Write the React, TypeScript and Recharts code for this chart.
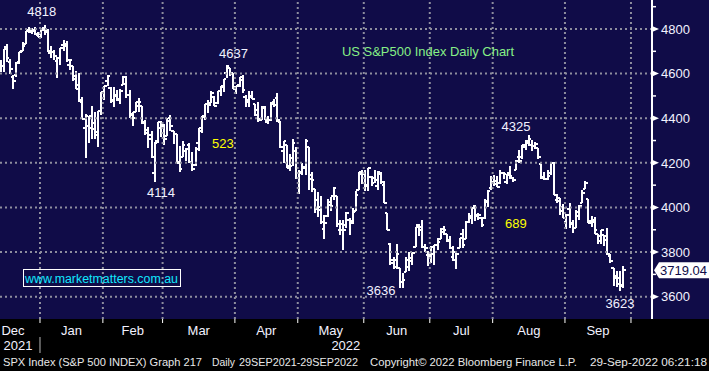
import React from 'react';
import { ComposedChart, Bar, XAxis, YAxis, ReferenceLine, ReferenceDot } from 'recharts';

const FONT = '"Liberation Sans", Arial, sans-serif';
const NAVY = '#100c48';
const GRID = '#8e8e9e';
const TEXT = '#f2f2ff';

// Trading days (categories)
const dates = [
  '2021-12-13','2021-12-14','2021-12-15','2021-12-16','2021-12-17','2021-12-20','2021-12-21','2021-12-22','2021-12-23','2021-12-27','2021-12-28','2021-12-29','2021-12-30','2021-12-31',
  '2022-01-03','2022-01-04','2022-01-05','2022-01-06','2022-01-07','2022-01-10','2022-01-11','2022-01-12','2022-01-13','2022-01-14','2022-01-18','2022-01-19','2022-01-20','2022-01-21','2022-01-24','2022-01-25','2022-01-26','2022-01-27','2022-01-28','2022-01-31',
  '2022-02-01','2022-02-02','2022-02-03','2022-02-04','2022-02-07','2022-02-08','2022-02-09','2022-02-10','2022-02-11','2022-02-14','2022-02-15','2022-02-16','2022-02-17','2022-02-18','2022-02-22','2022-02-23','2022-02-24','2022-02-25','2022-02-28',
  '2022-03-01','2022-03-02','2022-03-03','2022-03-04','2022-03-07','2022-03-08','2022-03-09','2022-03-10','2022-03-11','2022-03-14','2022-03-15','2022-03-16','2022-03-17','2022-03-18','2022-03-21','2022-03-22','2022-03-23','2022-03-24','2022-03-25','2022-03-28','2022-03-29','2022-03-30','2022-03-31',
  '2022-04-01','2022-04-04','2022-04-05','2022-04-06','2022-04-07','2022-04-08','2022-04-11','2022-04-12','2022-04-13','2022-04-14','2022-04-18','2022-04-19','2022-04-20','2022-04-21','2022-04-22','2022-04-25','2022-04-26','2022-04-27','2022-04-28','2022-04-29',
  '2022-05-02','2022-05-03','2022-05-04','2022-05-05','2022-05-06','2022-05-09','2022-05-10','2022-05-11','2022-05-12','2022-05-13','2022-05-16','2022-05-17','2022-05-18','2022-05-19','2022-05-20','2022-05-23','2022-05-24','2022-05-25','2022-05-26','2022-05-27','2022-05-31',
  '2022-06-01','2022-06-02','2022-06-03','2022-06-06','2022-06-07','2022-06-08','2022-06-09','2022-06-10','2022-06-13','2022-06-14','2022-06-15','2022-06-16','2022-06-17','2022-06-21','2022-06-22','2022-06-23','2022-06-24','2022-06-27','2022-06-28','2022-06-29','2022-06-30',
  '2022-07-01','2022-07-05','2022-07-06','2022-07-07','2022-07-08','2022-07-11','2022-07-12','2022-07-13','2022-07-14','2022-07-15','2022-07-18','2022-07-19','2022-07-20','2022-07-21','2022-07-22','2022-07-25','2022-07-26','2022-07-27','2022-07-28','2022-07-29',
  '2022-08-01','2022-08-02','2022-08-03','2022-08-04','2022-08-05','2022-08-08','2022-08-09','2022-08-10','2022-08-11','2022-08-12','2022-08-15','2022-08-16','2022-08-17','2022-08-18','2022-08-19','2022-08-22','2022-08-23','2022-08-24','2022-08-25','2022-08-26','2022-08-29','2022-08-30','2022-08-31',
  '2022-09-01','2022-09-02','2022-09-06','2022-09-07','2022-09-08','2022-09-09','2022-09-12','2022-09-13','2022-09-14','2022-09-15','2022-09-16','2022-09-19','2022-09-20','2022-09-21','2022-09-22','2022-09-23','2022-09-26','2022-09-27','2022-09-28',
];

const opens = [
  4710,4643,4636,4719,4652,4587,4594,4650,4703,4733,4795,4789,4794,4775,
  4778,4804,4787,4693,4697,4656,4669,4728,4733,4638,4632,4588,4548,4471,4356,4366,4408,4380,4337,4432,
  4519,4566,4535,4482,4505,4480,4548,4554,4506,4413,4430,4456,4456,4385,4332,4325,4155,4298,4354,
  4363,4322,4401,4342,4328,4202,4224,4253,4280,4202,4189,4288,4345,4407,4462,4469,4493,4470,4523,4541,4603,4624,4599,
  4540,4547,4573,4495,4474,4495,4462,4437,4394,4449,4385,4390,4473,4489,4385,4255,4279,4187,4222,4253,
  4130,4159,4181,4271,4129,4081,4035,3990,3903,3963,4013,4052,4051,3900,3928,3920,3943,3930,3984,4077,4151,
  4150,4096,4137,4134,4097,4148,4102,3974,3838,3764,3764,3729,3665,3709,3733,3774,3821,3920,3913,3825,3785,
  3781,3792,3831,3859,3888,3880,3851,3779,3764,3819,3883,3860,3935,3955,4007,3965,3954,3952,4027,4088,
  4113,4105,4108,4155,4115,4155,4133,4170,4227,4225,4269,4291,4281,4274,4267,4195,4133,4127,4154,4198,4035,4041,4000,
  3937,3995,3930,3910,3960,4022,4084,4039,3940,3933,3880,3849,3875,3871,3782,3727,3682,3686,3651,
];

const highs = [
  4710,4660,4712,4731,4666,4592,4651,4698,4740,4791,4807,4805,4808,4787,
  4797,4819,4798,4725,4708,4673,4715,4749,4744,4666,4632,4612,4602,4495,4418,4411,4453,4429,4432,4517,
  4546,4595,4542,4540,4528,4531,4590,4588,4527,4426,4472,4490,4456,4394,4362,4341,4294,4385,4388,
  4375,4401,4416,4343,4328,4276,4299,4268,4291,4248,4271,4358,4412,4465,4481,4522,4501,4520,4546,4575,4637,4627,4603,
  4546,4583,4593,4503,4521,4521,4464,4471,4453,4453,4411,4471,4488,4513,4386,4299,4279,4240,4308,4270,
  4169,4200,4308,4271,4157,4081,4068,4050,3964,4039,4047,4090,4051,3946,3943,3981,3955,3999,4076,4158,4168,
  4166,4178,4143,4169,4164,4160,4119,3974,3839,3778,3838,3729,3708,3779,3801,3802,3913,3928,3945,3837,3807,
  3829,3832,3865,3906,3918,3880,3874,3829,3796,3863,3903,3939,3975,3999,4013,3975,3954,4039,4079,4141,
  4144,4141,4167,4161,4151,4187,4138,4211,4257,4280,4301,4325,4302,4292,4267,4195,4159,4168,4200,4204,4062,4044,4016,
  3970,4019,3942,3987,4011,4077,4120,4039,3961,3956,3880,3900,3876,3908,3790,3727,3716,3717,3736,
];

const lows = [
  4667,4608,4607,4651,4600,4531,4583,4645,4703,4733,4780,4778,4775,4765,
  4758,4775,4699,4671,4663,4582,4639,4703,4651,4614,4568,4530,4471,4396,4222,4287,4305,4309,4273,4414,
  4483,4544,4470,4451,4477,4465,4548,4489,4401,4364,4430,4430,4373,4327,4268,4222,4115,4287,4318,
  4279,4322,4345,4284,4199,4157,4224,4209,4200,4162,4187,4251,4335,4390,4425,4469,4455,4465,4501,4517,4582,4589,4530,
  4507,4539,4514,4451,4450,4484,4408,4381,4392,4392,4373,4389,4449,4384,4268,4200,4175,4162,4188,4126,
  4062,4147,4147,4077,4068,3975,3958,3928,3859,3959,3984,4033,3911,3876,3810,3909,3875,3925,3984,4077,4104,
  4074,4075,4097,4110,4080,4107,4018,3900,3743,3724,3723,3639,3637,3709,3717,3743,3821,3870,3820,3800,3738,
  3752,3743,3811,3859,3876,3847,3814,3759,3722,3817,3819,3860,3929,3927,3938,3944,3911,3950,4002,4080,
  4097,4090,4107,4129,4107,4128,4112,4167,4201,4219,4257,4277,4253,4262,4218,4129,4124,4123,4147,4057,4018,3965,3954,
  3903,3907,3886,3907,3945,4022,4084,3932,3912,3880,3838,3838,3828,3789,3749,3647,3644,3624,3640,
];

const closes = [
  4668,4634,4709,4668,4620,4568,4649,4697,4725,4791,4786,4793,4778,4766,
  4796,4793,4700,4696,4677,4670,4713,4726,4659,4662,4577,4533,4483,4398,4410,4356,4350,4326,4432,4516,
  4546,4590,4477,4501,4484,4522,4587,4504,4419,4401,4472,4475,4380,4349,4305,4226,4288,4385,4374,
  4306,4387,4364,4329,4201,4171,4278,4260,4204,4173,4262,4358,4412,4463,4461,4512,4456,4520,4543,4575,4632,4602,4530,
  4546,4583,4525,4481,4500,4488,4413,4397,4447,4392,4391,4463,4459,4393,4272,4296,4175,4184,4288,4132,
  4155,4175,4300,4147,4123,3991,4001,3936,3930,4024,4008,4088,3924,3901,3901,3974,3941,3979,4058,4158,4132,
  4101,4176,4109,4121,4161,4116,4018,3901,3750,3735,3790,3667,3675,3765,3760,3796,3912,3900,3821,3819,3785,
  3825,3831,3845,3903,3899,3855,3819,3801,3790,3863,3831,3937,3960,3999,3962,3967,3921,4024,4072,4130,
  4119,4091,4155,4152,4145,4140,4122,4210,4207,4280,4297,4305,4275,4284,4228,4138,4128,4141,4199,4058,4031,3986,3955,
  3967,3924,3909,3980,4006,4067,4110,3932,3946,3901,3873,3900,3856,3790,3758,3693,3655,3647,3719,
];

const lastClose = 3719.04;

// x-axis tick positions (in trading-day index units)
const monthBoundaries = [13.5, 33.5, 52.5, 75.5, 95.5, 116.5, 137.5, 157.5, 180.5, 201.5];
const yearSeparator = 13.5;
const monthLabels = ['Dec', 'Jan', 'Feb', 'Mar', 'Apr', 'May', 'Jun', 'Jul', 'Aug', 'Sep'];
const monthLabelPos = [4.9, 23.5, 43, 64, 85.5, 106, 127, 147.5, 169, 191];
const yearLabels = ['2021', '2022'];
const yearLabelPos = [6.5, 110.8];

const yGridValues = [3600, 3800, 4000, 4200, 4400, 4600, 4800];
const yTickValues = [3600, 3700, 3800, 3900, 4000, 4100, 4200, 4300, 4400, 4500, 4600, 4700, 4800, 4900, lastClose];

const annotations = [
  { x: 15, y: 4819, text: '4818', dx: -3, dy: -9, color: TEXT },
  { x: 73, y: 4637, text: '4637', dx: 6.5, dy: -7, color: TEXT },
  { x: 50, y: 4115, text: '4114', dx: 6.3, dy: 15.3, color: TEXT },
  { x: 129, y: 3637, text: '3636', dx: -22, dy: 6.6, color: TEXT },
  { x: 169, y: 4325, text: '4325', dx: -12.8, dy: -4, color: TEXT },
  { x: 198, y: 3624, text: '3623', dx: 0, dy: 16.7, color: TEXT },
  { x: 71.7, y: 4266.6, text: '523', dx: 0, dy: 0, color: '#ffff00' },
  { x: 164.9, y: 3908, text: '689', dx: 0, dy: 0, color: '#ffff00' },
];

const data = dates.map((d, i) => ({
  idx: i,
  date: d,
  open: opens[i],
  high: highs[i],
  low: lows[i],
  close: closes[i],
  range: [lows[i], highs[i]],
}));

const OhlcShape = (props: any) => {
  const { x, y, width, height, payload } = props;
  if (x == null || y == null || !payload) return null;
  const cx = x + (width || 0) / 2;
  const top = Math.min(y, y + height);
  const bot = Math.max(y, y + height);
  const span = payload.high - payload.low || 1;
  const oy = top + ((payload.high - payload.open) / span) * (bot - top);
  const cy = top + ((payload.high - payload.close) / span) * (bot - top);
  return (
    <g stroke="#ffffff" strokeWidth={2} shapeRendering="crispEdges">
      <line x1={cx} x2={cx} y1={top} y2={bot} />
      <line x1={cx - 2.5} x2={cx} y1={oy} y2={oy} />
      <line x1={cx} x2={cx + 2.5} y1={cy} y2={cy} />
    </g>
  );
};

const XTick = (props: any) => {
  const { x, y, payload } = props;
  const v = payload && payload.value;
  if (monthBoundaries.indexOf(v) >= 0) {
    return (
      <g>
        <line x1={x} x2={x} y1={y} y2={y + 4} stroke="#ffffff" strokeWidth={1} />
        {v === yearSeparator && <line x1={x} x2={x} y1={y + 18} y2={y + 34} stroke="#b8b8b8" strokeWidth={1} />}
      </g>
    );
  }
  const mi = monthLabelPos.indexOf(v);
  if (mi >= 0) {
    return (
      <text x={x} y={y + 16} textAnchor="middle" fill={TEXT} fontSize={13} fontFamily={FONT}>
        {monthLabels[mi]}
      </text>
    );
  }
  const yi = yearLabelPos.indexOf(v);
  if (yi >= 0) {
    return (
      <text x={x} y={y + 31} textAnchor="middle" fill={TEXT} fontSize={13} fontFamily={FONT}>
        {yearLabels[yi]}
      </text>
    );
  }
  return null;
};

const YTick = (props: any) => {
  const { x, y, payload } = props;
  const v = payload && payload.value;
  if (v === lastClose) {
    return (
      <g>
        <polygon points={`${x + 2},${y} ${x + 7},${y - 8} ${x + 60},${y - 8} ${x + 60},${y + 8} ${x + 7},${y + 8}`} fill="#ffffff" />
        <text x={x + 8} y={y + 4.5} fill={NAVY} fontSize={13} fontFamily={FONT}>
          {v.toFixed(2)}
        </text>
      </g>
    );
  }
  if (v % 200 === 0) {
    return (
      <g>
        <polygon points={`${x},${y - 3} ${x + 7},${y} ${x},${y + 3}`} fill="#ffffff" />
        <text x={x + 9} y={y + 4.7} fill={TEXT} fontSize={13} fontFamily={FONT}>
          {v}
        </text>
      </g>
    );
  }
  return <line x1={x} x2={x + 4} y1={y} y2={y} stroke="#ffffff" strokeWidth={1.5} />;
};

const AnnoLabel = (props: any) => {
  const { viewBox, text, dx, dy, color } = props;
  if (!viewBox) return null;
  const cx = viewBox.x + (viewBox.width || 0) / 2;
  const cy = viewBox.y + (viewBox.height || 0) / 2;
  return (
    <text x={cx + dx} y={cy + dy} textAnchor="middle" fill={color} fontSize={13} fontFamily={FONT}>
      {text}
    </text>
  );
};

export default function App() {
  return (
    <div style={{ position: 'absolute', left: 0, top: 0, width: 709, height: 371, background: '#000000', overflow: 'hidden' }}>
      <div style={{ position: 'absolute', left: 0, top: 0, width: 709, height: 319, background: NAVY }} />
      <div style={{ position: 'absolute', left: 0, top: 0 }}>
        <ComposedChart width={709} height={371} data={data} margin={{ top: 0, right: 0, bottom: 0, left: 0 }}>
          <XAxis
            dataKey="idx"
            type="number"
            domain={[0.776, 208.19]}
            allowDataOverflow
            ticks={[...monthBoundaries, ...monthLabelPos, ...yearLabelPos]}
            interval={0}
            height={52}
            tickSize={0}
            tickMargin={0}
            axisLine={false}
            tickLine={false}
            tick={(p: any) => <XTick {...p} />}
          />
          <YAxis
            orientation="right"
            type="number"
            domain={[3500, 4930]}
            allowDataOverflow
            ticks={yTickValues}
            interval={0}
            width={57}
            tickSize={0}
            tickMargin={0}
            axisLine={{ stroke: '#ffffff', strokeWidth: 2 }}
            tickLine={false}
            tick={(p: any) => <YTick {...p} />}
          />
          {yGridValues.map((v) => (
            <ReferenceLine key={'h' + v} y={v} stroke={GRID} strokeWidth={2} strokeDasharray="2 3" />
          ))}
          {monthBoundaries.map((v) => (
            <ReferenceLine key={'v' + v} x={v} stroke={GRID} strokeWidth={2} strokeDasharray="2 3" />
          ))}
          <Bar dataKey="range" barSize={3} shape={(p: any) => <OhlcShape {...p} />} isAnimationActive={false} />
          {annotations.map((a) => (
            <ReferenceDot
              key={a.text}
              x={a.x}
              y={a.y}
              r={1}
              fill="none"
              stroke="none"
              label={<AnnoLabel text={a.text} dx={a.dx} dy={a.dy} color={a.color} />}
            />
          ))}
        </ComposedChart>
      </div>
      <svg width={709} height={371} style={{ position: 'absolute', left: 0, top: 0, pointerEvents: 'none' }}>
        <text x={342} y={56} fill="#86f086" fontSize={13} fontFamily={FONT} textLength={172} lengthAdjust="spacingAndGlyphs">
          US S&amp;P500 Index Daily Chart
        </text>
        <rect x={23.5} y={269.5} width={157} height={17} fill="none" stroke="#ffffff" strokeWidth={1} />
        <text x={25} y={283} fill="#10e8ff" fontSize={12.5} fontFamily={FONT} textLength={153} lengthAdjust="spacingAndGlyphs">
          www.marketmatters.com.au
        </text>
        <g fill="#e8e8e8" fontSize={11} fontFamily={FONT}>
          <text x={3} y={366} textLength={199} lengthAdjust="spacingAndGlyphs">SPX Index (S&amp;P 500 INDEX) Graph 217</text>
          <text x={212} y={366} textLength={23} lengthAdjust="spacingAndGlyphs">Daily</text>
          <text x={239} y={366} textLength={119} lengthAdjust="spacingAndGlyphs">29SEP2021-29SEP2022</text>
          <text x={370} y={366} textLength={207} lengthAdjust="spacingAndGlyphs">Copyright© 2022 Bloomberg Finance L.P.</text>
          <text x={590} y={366} textLength={117} lengthAdjust="spacingAndGlyphs">29-Sep-2022 06:21:18</text>
        </g>
      </svg>
    </div>
  );
}
